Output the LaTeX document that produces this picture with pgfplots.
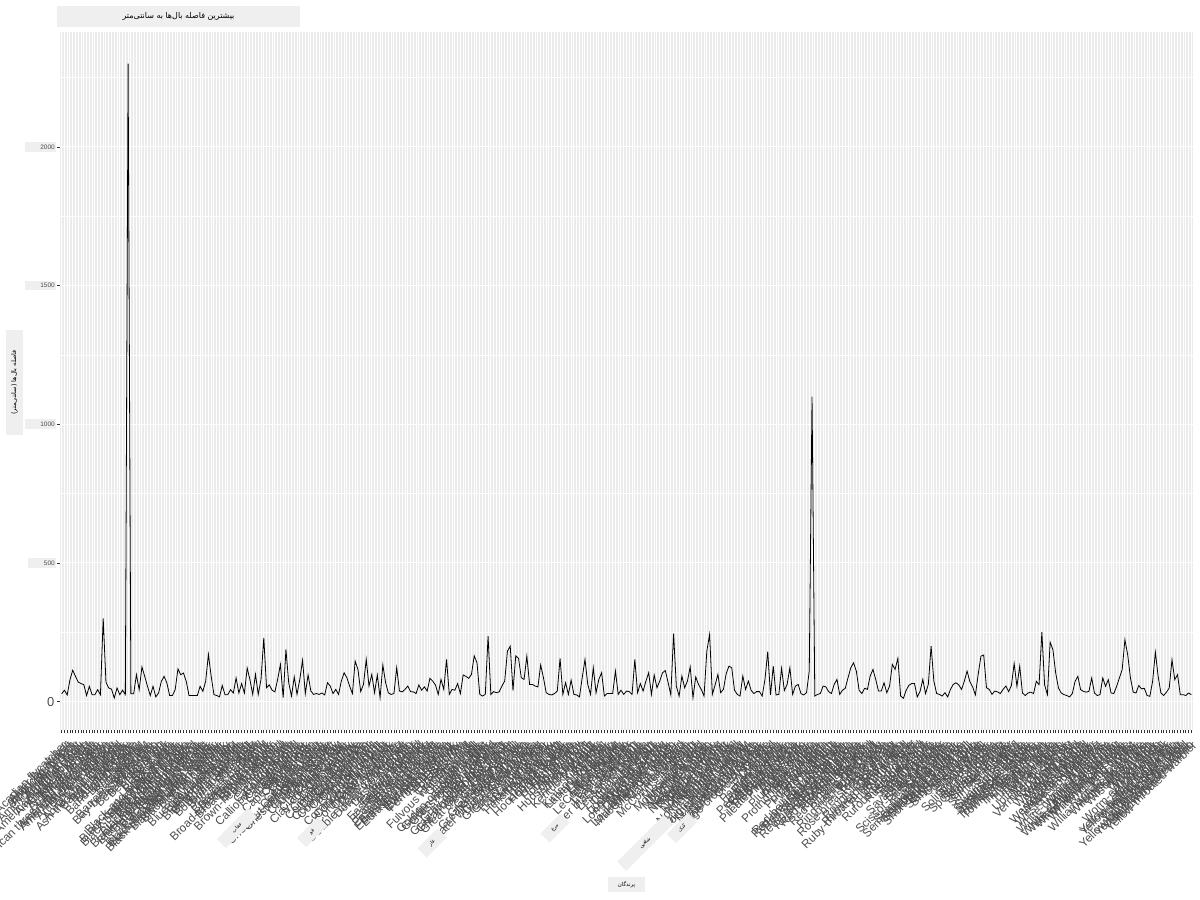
\documentclass[border=0pt]{standalone}
\usepackage{pgfplots}
\pgfplotsset{compat=1.18}
\usepackage{fontspec}
\setmainfont{Liberation Sans}
\newfontfamily\farsi[Script=Arabic]{DejaVu Sans}
\TeXXeTstate=1

\definecolor{panelgrey}{HTML}{EBEBEB}
\definecolor{boxgrey}{HTML}{EFEFEF}
\definecolor{textgrey}{HTML}{4D4D4D}
\definecolor{tickgrey}{HTML}{333333}

\begin{document}
\begin{tikzpicture}[x=1bp,y=1bp]
\useasboundingbox (0,0) rectangle (1200,900);
\clip (0,0) rectangle (1200,900);

\begin{axis}[
  at={(60bp,170bp)}, anchor=south west,
  scale only axis, width=1133bp, height=698bp,
  xmin=-0.6, xmax=408.6,
  ymin=-102.4, ymax=2414.4,
  axis background/.style={fill=panelgrey},
  axis line style={draw=none},
  xtick pos=bottom, ytick pos=left,
  tick align=outside,
  major tick length=3.5bp, minor tick length=0pt,
  tick style={tickgrey, line width=0.8bp},
  grid=both,
  major grid style={white, line width=1bp},
  minor grid style={white, line width=0.5bp},
  xtick={0,...,408},
  xticklabel style={yshift=-5bp, rotate=45, anchor=north east, inner sep=1bp,
    font=\fontsize{11.8}{12}\selectfont, text=textgrey},
  xticklabels={
    Acadian flycatcher,Alder flycatcher,American avocet,American bittern,American black duck,American coot,American crow,American golden-plover,American goldfinch,American kestrel,
    American pipit,American redstart,American robin,American three-toed woodpecker,American tree sparrow,American white pelican,American wigeon,American woodcock,Ancient murrelet,Anhinga,
    Anna's hummingbird,Ash-throated flycatcher,Baird's sandpiper,Baird's sparrow,Bald eagle,Baltimore oriole,Band-tailed pigeon,Bank swallow,Barn owl,Barn swallow,
    Barred owl,Barrow's goldeneye,Bay-breasted warbler,Bell's vireo,Belted kingfisher,Bewick's wren,Black rail,Black scoter,Black tern,Black vulture,
    Black-and-white warbler,Black-backed woodpecker,Black-bellied plover,Black-bellied whistling-duck,Black-billed cuckoo,Black-billed magpie,Black-capped chickadee,Black-chinned hummingbird,Black-crowned night-heron,Black-headed grosbeak,
    Black-legged kittiwake,Black-necked stilt,Black-throated blue warbler,Black-throated gray warbler,Black-throated green warbler,Black-throated sparrow,Blackburnian warbler,Blackpoll warbler,Blue grosbeak,Blue jay,
    Blue-gray gnatcatcher,Blue-headed vireo,Blue-winged teal,Blue-winged warbler,Boat-tailed grackle,Bobolink,Bohemian waxwing,Bonaparte's gull,Boreal chickadee,Boreal owl,
    Brant,Brewer's blackbird,Brewer's sparrow,Broad-tailed hummingbird,Broad-winged hawk,Brown creeper,Brown pelican,Brown thrasher,Brown-headed cowbird,Bufflehead,
    Burrowing owl,Bushtit,Cackling goose,California gull,Calliope hummingbird,Canada goose,Canada jay,Canada warbler,Canvasback,Cape May warbler,
    Carolina wren,Caspian tern,Cattle egret,Cedar waxwing,Cerulean warbler,Chestnut-collared longspur,Chestnut-sided warbler,Chimney swift,Chipping sparrow,Chuck-will's-widow,
    Cinnamon teal,Clark's grebe,Clark's nutcracker,Clay-colored sparrow,Cliff swallow,Common eider,Common gallinule,Common goldeneye,Common grackle,Common loon,
    Common merganser,Common nighthawk,Common poorwill,Common raven,Common redpoll,Common tern,Common yellowthroat,Connecticut warbler,Cooper's hawk,Cordilleran flycatcher,
    Curlew sandpiper,Dark-eyed junco,Dickcissel,Double-crested cormorant,Downy woodpecker,Dunlin,Dusky flycatcher,Eared grebe,Eastern bluebird,Eastern kingbird,
    Eastern meadowlark,Eastern phoebe,Eastern screech-owl,Eastern towhee,Eastern whip-poor-will,Eastern wood-pewee,Eurasian collared-dove,Eurasian tree sparrow,Eurasian wigeon,European starling,
    Evening grosbeak,Ferruginous hawk,Field sparrow,Fish crow,Forster's tern,Fox sparrow,Franklin's gull,Fulvous whistling-duck,Gadwall,Glaucous gull,
    Glossy ibis,Golden eagle,Golden-crowned kinglet,Golden-winged warbler,Grasshopper sparrow,Gray catbird,Gray partridge,Gray-cheeked thrush,Gray-crowned rosy-finch,Great black-backed gull,
    Great blue heron,Great crested flycatcher,Great egret,Great gray owl,Great horned owl,Great-tailed grackle,Greater prairie-chicken,Greater scaup,Greater white-fronted goose,Greater yellowlegs,
    Green heron,Green-tailed towhee,Green-winged teal,Gyrfalcon,Hairy woodpecker,Harlequin duck,Harris's sparrow,Henslow's sparrow,Hermit thrush,Herring gull,
    Hoary redpoll,Hooded merganser,Hooded warbler,Horned grebe,Horned lark,House finch,House sparrow,House wren,Hudsonian godwit,Iceland gull,
    Indigo bunting,Ivory gull,Kentucky warbler,Killdeer,King eider,King rail,Kirtland's warbler,Lapland longspur,Lark bunting,Lark sparrow,
    Laughing gull,Lazuli bunting,LeConte's sparrow,Least bittern,Least flycatcher,Least sandpiper,Least tern,Lesser black-backed gull,Lesser scaup,Lesser yellowlegs,
    Limpkin,Lincoln's sparrow,Little blue heron,Little gull,Loggerhead shrike,Long-billed curlew,Long-billed dowitcher,Long-eared owl,Long-tailed duck,Long-tailed jaeger,
    Louisiana waterthrush,MacGillivray's warbler,Magnolia warbler,Mallard,Marbled godwit,Marsh wren,McCown's longspur,Merlin,Mew gull,Mississippi kite,
    Mountain bluebird,Mourning dove,Mourning warbler,Mute swan,Nashville warbler,Nelson's sparrow,Northern bobwhite,Northern cardinal,Northern flicker,Northern gannet,
    Northern goshawk,Northern harrier,Northern hawk owl,Northern mockingbird,Northern parula,Northern pintail,Northern rough-winged swallow,Northern saw-whet owl,Northern shoveler,Northern shrike,
    Northern waterthrush,Northern wheatear,Olive-sided flycatcher,Orange-crowned warbler,Orchard oriole,Osprey,Ovenbird,Pacific loon,Painted bunting,Palm warbler,
    Parasitic jaeger,Pectoral sandpiper,Peregrine falcon,Philadelphia vireo,Pied-billed grebe,Pileated woodpecker,Pine grosbeak,Pine siskin,Pine warbler,Piping plover,
    Plumbeous vireo,Prairie falcon,Prairie warbler,Prothonotary warbler,Purple finch,Purple martin,Purple sandpiper,Pygmy nuthatch,Red crossbill,Red knot,
    Red phalarope,Red-bellied woodpecker,Red-breasted merganser,Red-breasted nuthatch,Red-eyed vireo,Red-headed woodpecker,Red-necked grebe,Red-necked phalarope,Red-shouldered hawk,Red-tailed hawk,
    Red-throated loon,Red-winged blackbird,Redhead,Ring-billed gull,Ring-necked duck,Ring-necked pheasant,Rock pigeon,Rock wren,Rose-breasted grosbeak,Ross's goose,
    Ross's gull,Rough-legged hawk,Royal tern,Ruby-crowned kinglet,Ruby-throated hummingbird,Ruddy duck,Ruddy turnstone,Ruff,Ruffed grouse,Rufous hummingbird,
    Rusty blackbird,Sabine's gull,Sage thrasher,Sanderling,Sandhill crane,Savannah sparrow,Say's phoebe,Scarlet tanager,Scissor-tailed flycatcher,Scott's oriole,
    Sedge wren,Semipalmated plover,Semipalmated sandpiper,Sharp-shinned hawk,Sharp-tailed grouse,Short-billed dowitcher,Short-eared owl,Slaty-backed gull,Smith's longspur,Snow bunting,
    Snow goose,Snowy egret,Snowy owl,Snowy plover,Solitary sandpiper,Song sparrow,Sora,Spotted sandpiper,Spotted towhee,Sprague's pipit,
    Spruce grouse,Steller's jay,Summer tanager,Surf scoter,Surfbird,Swainson's hawk,Swainson's thrush,Swallow-tailed kite,Swamp sparrow,Tennessee warbler,
    Townsend's solitaire,Townsend's warbler,Tree swallow,Tricolored heron,Trumpeter swan,Tufted duck,Tufted titmouse,Tundra swan,Turkey vulture,Upland sandpiper,
    Varied thrush,Veery,Vermilion flycatcher,Vesper sparrow,Virginia rail,Warbling vireo,Western bluebird,Western grebe,Western gull,Western kingbird,
    Western meadowlark,Western sandpiper,Western tanager,Western wood-pewee,Whimbrel,White ibis,White-crowned sparrow,White-eyed vireo,White-faced ibis,White-rumped sandpiper,
    White-throated sparrow,White-winged crossbill,White-winged dove,White-winged scoter,Whooping crane,Wild turkey,Willet,Williamson's sapsucker,Willow flycatcher,Wilson's phalarope,
    Wilson's snipe,Wilson's warbler,Winter wren,Wood duck,Wood stork,Wood thrush,Worm-eating warbler,Yellow rail,Yellow warbler,Yellow-bellied flycatcher,
    Yellow-bellied sapsucker,Yellow-billed cuckoo,Yellow-billed loon,Yellow-breasted chat,Yellow-crowned night-heron,Yellow-headed blackbird,Yellow-rumped warbler,Yellow-throated vireo,Yellow-throated warbler
  },
  ytick={500,1000,1500,2000},
  yticklabels={{\hspace*{14bp}500},{\hspace*{14bp}1000},{\hspace*{14bp}1500},{\hspace*{14bp}2000}},
  minor ytick={250,750,1250,1750,2250},
  yticklabel style={font=\fontsize{6.5}{7}\selectfont, text=textgrey,
    fill=boxgrey, inner xsep=1.5bp, inner ysep=2.5bp},
  extra y ticks={0},
  extra y tick labels={0},
  extra y tick style={yticklabel style={fill=none, inner xsep=2bp,
    font=\fontsize{13}{13}\selectfont}},
]
\addplot[black, line width=0.8bp, mark=none] coordinates {
(0,28) (1,41) (2,24) (3,79) (4,113) (5,91) (6,70) (7,65) (8,61) (9,22)
(10,55) (11,25) (12,25) (13,43) (14,25) (15,300) (16,70) (17,49) (18,45) (19,13)
(20,49) (21,25) (22,41) (23,25) (24,2300) (25,28) (26,28) (27,97) (28,43) (29,125)
(30,91) (31,55) (32,22) (33,55) (34,17) (35,31) (36,73) (37,91) (38,67) (39,22)
(40,22) (41,43) (42,118) (43,97) (44,103) (45,73) (46,22) (47,22) (48,22) (49,22)
(50,55) (51,37) (52,73) (53,170) (54,91) (55,25) (56,22) (57,17) (58,58) (59,25)
(60,25) (61,43) (62,31) (63,85) (64,31) (65,65) (66,31) (67,121) (68,79) (69,26)
(70,98) (71,26) (72,80) (73,230) (74,50) (75,60) (76,41) (77,35) (78,80) (79,134)
(80,14) (81,188) (82,68) (83,20) (84,89) (85,26) (86,80) (87,149) (88,29) (89,96)
(90,38) (91,26) (92,29) (93,26) (94,31) (95,24) (96,68) (97,56) (98,29) (99,44)
(100,26) (101,74) (102,104) (103,86) (104,56) (105,29) (106,146) (107,116) (108,36) (109,62)
(110,152) (111,56) (112,98) (113,32) (114,96) (115,14) (116,132) (117,68) (118,31) (119,26)
(120,29) (121,122) (122,38) (123,35) (124,44) (125,56) (126,36) (127,35) (128,29) (129,60)
(130,41) (131,53) (132,38) (133,84) (134,74) (135,60) (136,26) (137,80) (138,44) (139,152)
(140,26) (141,44) (142,41) (143,65) (144,29) (145,96) (146,91) (147,84) (148,98) (149,165)
(150,140) (151,26) (152,20) (153,26) (154,236) (155,26) (156,36) (157,32) (158,35) (159,56)
(160,74) (161,182) (162,200) (163,40) (164,165) (165,156) (166,86) (167,80) (168,164) (169,62)
(170,62) (171,56) (172,53) (173,132) (174,86) (175,32) (176,26) (177,24) (178,29) (179,38)
(180,156) (181,26) (182,68) (183,26) (184,77) (185,26) (186,24) (187,17) (188,86) (189,152)
(190,62) (191,26) (192,122) (193,32) (194,80) (195,104) (196,20) (197,29) (198,29) (199,29)
(200,110) (201,26) (202,41) (203,26) (204,38) (205,36) (206,26) (207,152) (208,32) (209,65)
(210,38) (211,74) (212,104) (213,26) (214,96) (215,50) (216,74) (217,104) (218,112) (219,70)
(220,24) (221,245) (222,55) (223,20) (224,92) (225,50) (226,74) (227,125) (228,14) (229,89)
(230,62) (231,44) (232,20) (233,182) (234,242) (235,26) (236,60) (237,98) (238,32) (239,44)
(240,101) (241,128) (242,122) (243,41) (244,26) (245,20) (246,92) (247,44) (248,74) (249,41)
(250,29) (251,36) (252,36) (253,20) (254,80) (255,180) (256,24) (257,128) (258,24) (259,26)
(260,120) (261,40) (262,62) (263,122) (264,26) (265,56) (266,62) (267,29) (268,24) (269,32)
(270,110) (271,1100) (272,20) (273,26) (274,29) (275,56) (276,53) (277,36) (278,29) (279,62)
(280,80) (281,26) (282,41) (283,48) (284,86) (285,122) (286,140) (287,110) (288,41) (289,29)
(290,48) (291,44) (292,92) (293,116) (294,80) (295,38) (296,38) (297,68) (298,32) (299,56)
(300,134) (301,116) (302,156) (303,20) (304,12) (305,41) (306,59) (307,65) (308,65) (309,17)
(310,36) (311,80) (312,29) (313,62) (314,200) (315,74) (316,29) (317,26) (318,20) (319,32)
(320,17) (321,44) (322,62) (323,68) (324,60) (325,44) (326,74) (327,110) (328,72) (329,53)
(330,24) (331,98) (332,164) (333,168) (334,50) (335,44) (336,26) (337,38) (338,35) (339,29)
(340,44) (341,56) (342,36) (343,58) (344,137) (345,55) (346,127) (347,31) (348,22) (349,31)
(350,34) (351,29) (352,73) (353,61) (354,250) (355,60) (356,25) (357,214) (358,187) (359,103)
(360,49) (361,31) (362,25) (363,22) (364,17) (365,29) (366,73) (367,91) (368,43) (369,37)
(370,34) (371,37) (372,85) (373,31) (374,22) (375,25) (376,85) (377,55) (378,79) (379,31)
(380,29) (381,55) (382,85) (383,115) (384,223) (385,169) (386,85) (387,34) (388,31) (389,58)
(390,46) (391,48) (392,22) (393,19) (394,73) (395,178) (396,91) (397,31) (398,22) (399,34)
(400,49) (401,151) (402,79) (403,97) (404,25) (405,25) (406,22) (407,31) (408,25)
};
\end{axis}

% title, axis titles and the stray boxed labels
\node[fill=boxgrey, minimum width=243bp, minimum height=21bp, inner sep=0pt,
  font=\farsi\fontsize{8}{9}\selectfont] at (178.5,883.5)
  {\beginR بیشترین فاصله بال‌ها به سانتی‌متر\endR};
\node[fill=boxgrey, rotate=90, minimum width=105bp, minimum height=17bp, inner sep=0pt,
  font=\farsi\fontsize{6.5}{7}\selectfont] at (14.5,517.5)
  {\beginR فاصله بال‌ها (سانتی‌متر)\endR};
\node[fill=boxgrey, minimum width=37bp, minimum height=15bp, inner sep=0pt,
  font=\farsi\fontsize{5.5}{6}\selectfont] at (626.5,15.5)
  {\beginR پرندگان\endR};

\begin{scope}[every node/.style={fill=boxgrey, rotate=45, inner sep=0pt,
  minimum height=13bp, font=\farsi\fontsize{5}{6}\selectfont}]
\node[minimum width=44bp] at (237,72) {\beginR عقاب\endR};
\node[minimum width=30bp] at (312,68) {\beginR قو\endR};
\node[minimum width=28bp] at (432,57) {\beginR غاز\endR};
\node[minimum width=28bp] at (555,72) {\beginR مرغ\endR};
\node[minimum width=66bp] at (645,57) {\beginR شاهین\endR};
\node[minimum width=30bp] at (682,72) {\beginR کبک\endR};
\end{scope}
\end{tikzpicture}
\end{document}
